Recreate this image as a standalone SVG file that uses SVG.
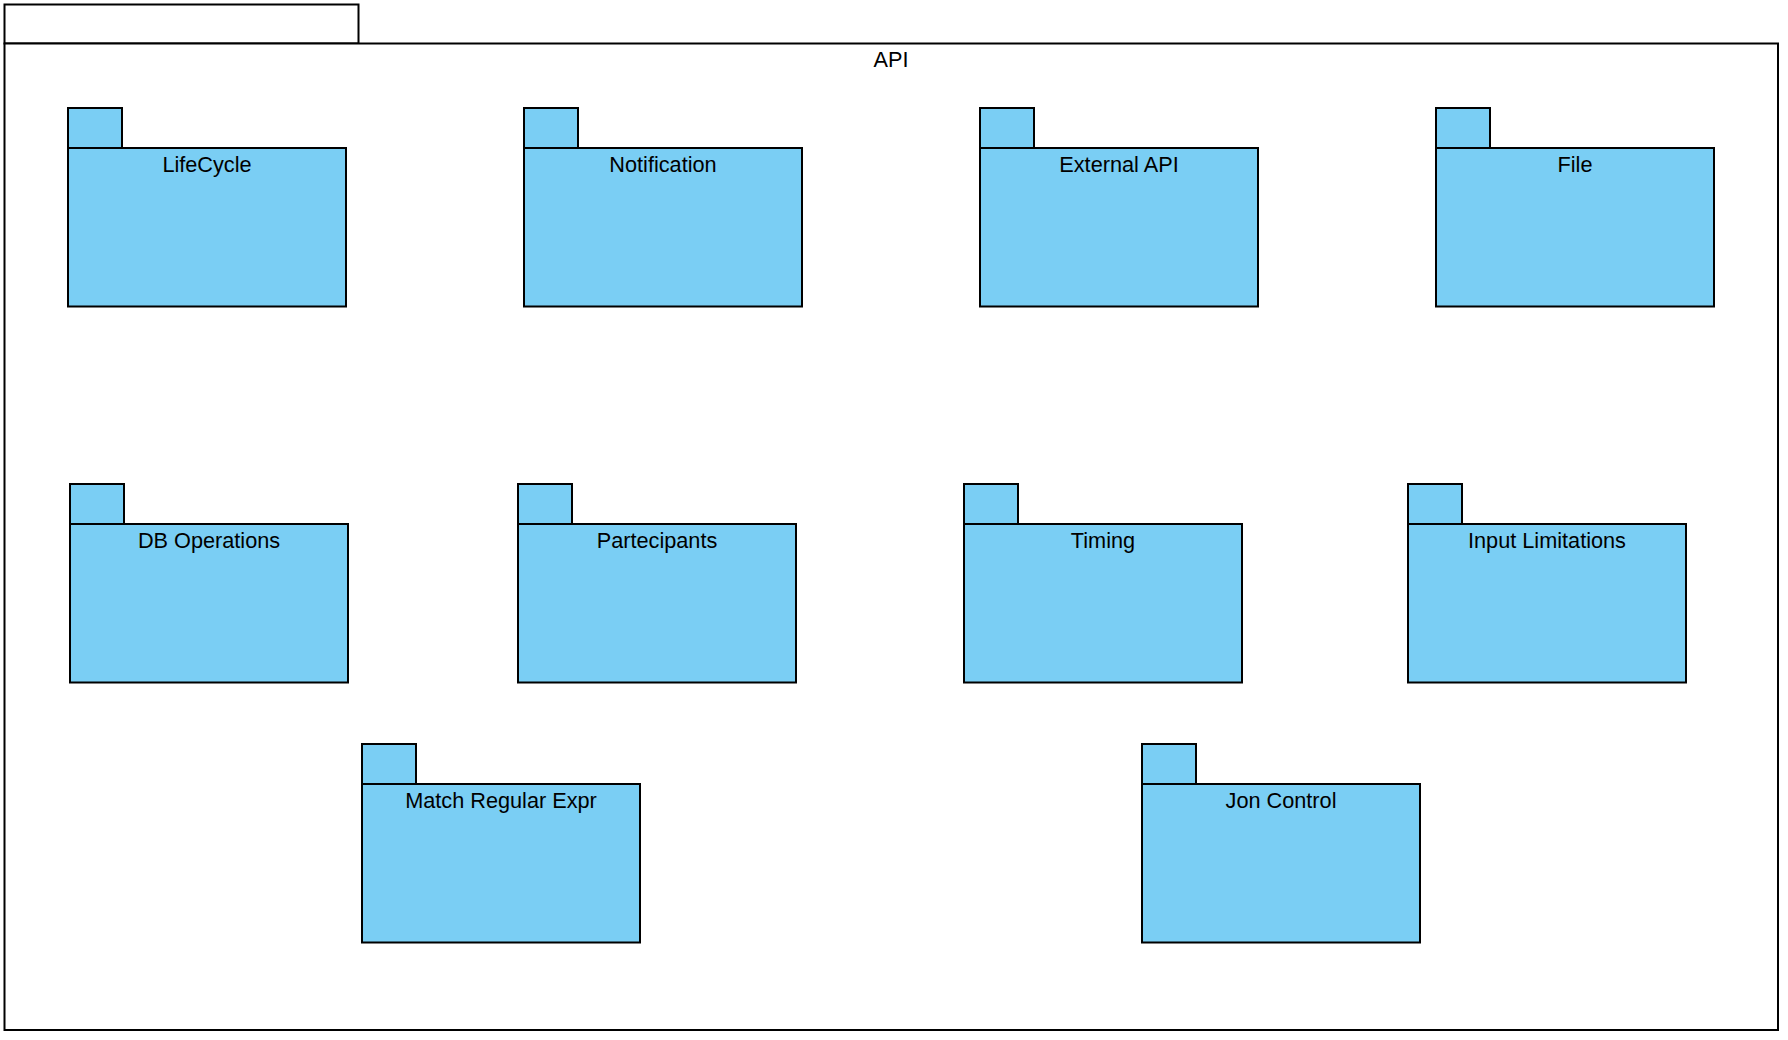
<svg xmlns="http://www.w3.org/2000/svg" width="1788" height="1040" viewBox="0 0 1788 1040">
  <style>
    .frame { fill: #ffffff; stroke: #000000; stroke-width: 2; }
    .pkg { fill: #7acef4; stroke: #000000; stroke-width: 2; }
    .label { font-family: "Liberation Sans", Arial, sans-serif; font-size: 21.7px; fill: #000000; text-anchor: middle; }
  </style>
  <defs>
    <!-- package shape: tab + body, origin at body top-left -->
    <g id="pkgShape">
      <rect class="pkg" x="0" y="-40" width="54" height="40"/>
      <rect class="pkg" x="0" y="0" width="278" height="158.5"/>
    </g>
  </defs>
  <rect width="1788" height="1040" fill="#ffffff"/>

  <!-- API container package -->
  <g id="api">
    <rect class="frame" x="4.5" y="4.5" width="354" height="39"/>
    <rect class="frame" x="4.5" y="43.5" width="1773.5" height="986.5"/>
    <text class="label" x="891" y="67.3">API</text>
  </g>

  <g id="lifecycle" transform="translate(68,148)">
    <use href="#pkgShape"/>
    <text class="label" x="139" y="24">LifeCycle</text>
  </g>
  <g id="notification" transform="translate(524,148)">
    <use href="#pkgShape"/>
    <text class="label" x="139" y="24">Notification</text>
  </g>
  <g id="external-api" transform="translate(980,148)">
    <use href="#pkgShape"/>
    <text class="label" x="139" y="24">External API</text>
  </g>
  <g id="file" transform="translate(1436,148)">
    <use href="#pkgShape"/>
    <text class="label" x="139" y="24">File</text>
  </g>

  <g id="db-operations" transform="translate(70,524)">
    <use href="#pkgShape"/>
    <text class="label" x="139" y="24">DB Operations</text>
  </g>
  <g id="partecipants" transform="translate(518,524)">
    <use href="#pkgShape"/>
    <text class="label" x="139" y="24">Partecipants</text>
  </g>
  <g id="timing" transform="translate(964,524)">
    <use href="#pkgShape"/>
    <text class="label" x="139" y="24">Timing</text>
  </g>
  <g id="input-limitations" transform="translate(1408,524)">
    <use href="#pkgShape"/>
    <text class="label" x="139" y="24">Input Limitations</text>
  </g>

  <g id="match-regular-expr" transform="translate(362,784)">
    <use href="#pkgShape"/>
    <text class="label" x="139" y="24">Match Regular Expr</text>
  </g>
  <g id="jon-control" transform="translate(1142,784)">
    <use href="#pkgShape"/>
    <text class="label" x="139" y="24">Jon Control</text>
  </g>

  <g id="connectors"></g>
</svg>
